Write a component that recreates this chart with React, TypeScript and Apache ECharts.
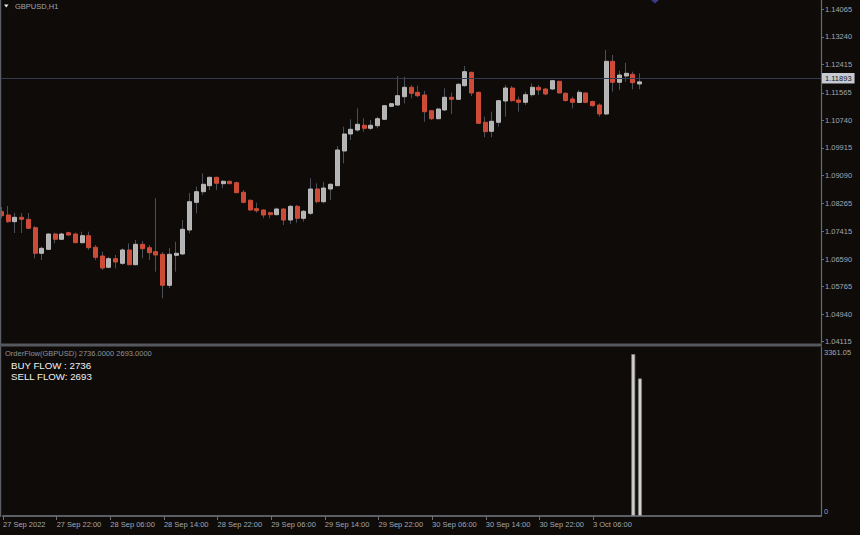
import React, { useEffect, useRef } from "react";
import * as echarts from "echarts";

// ---------- DATA ----------
const symbolTitle = "GBPUSD,H1";
const xTickLabels = [
  "27 Sep 2022", "27 Sep 22:00", "28 Sep 06:00", "28 Sep 14:00", "28 Sep 22:00",
  "29 Sep 06:00", "29 Sep 14:00", "29 Sep 22:00", "30 Sep 06:00", "30 Sep 14:00",
  "30 Sep 22:00", "3 Oct 06:00",
];
const barsPerXTick = 8;
const priceTicks = [
  1.14065, 1.1324, 1.12415, 1.11565, 1.1074, 1.09915, 1.0909, 1.08265,
  1.07415, 1.0659, 1.05765, 1.0494, 1.04115,
];
const priceMin = 1.04077;
const priceMax = 1.14343;
const currentPrice = 1.11893;

const opens = [
  1.08007, 1.07908, 1.07708, 1.07839, 1.07779, 1.07528, 1.06762, 1.06881, 1.07339, 1.07181,
  1.07378, 1.07339, 1.07079, 1.07289, 1.06941, 1.06681, 1.06343, 1.066, 1.06462, 1.06861,
  1.0642, 1.07031, 1.06929, 1.0681, 1.06732, 1.05804, 1.06702, 1.06741, 1.07459, 1.08288,
  1.08605, 1.08785, 1.09036, 1.08845, 1.08917, 1.08875, 1.08588, 1.08348, 1.08097, 1.08058,
  1.07977, 1.07917, 1.08088, 1.07758, 1.08168, 1.07809, 1.07959, 1.08686, 1.08306, 1.08686,
  1.08785, 1.09824, 1.10332, 1.10452, 1.10593, 1.10503, 1.10581, 1.10772, 1.11161, 1.112,
  1.11449, 1.1173, 1.1158, 1.115, 1.1103, 1.1079, 1.11051, 1.11431, 1.11371, 1.11778,
  1.12179, 1.1158, 1.10683, 1.10413, 1.10683, 1.1132, 1.11709, 1.1135, 1.11281, 1.11509,
  1.1173, 1.11679, 1.11679, 1.1191, 1.11551, 1.1138, 1.11275, 1.1156, 1.11305, 1.112,
  1.10931, 1.12508, 1.1188, 1.12068, 1.12119, 1.1183,
];
const closes = [
  1.07887, 1.07708, 1.07839, 1.07779, 1.0751, 1.06762, 1.06911, 1.07339, 1.07181, 1.07339,
  1.07309, 1.07079, 1.07289, 1.06929, 1.06642, 1.06322, 1.066, 1.06501, 1.06861, 1.0642,
  1.07031, 1.06899, 1.0678, 1.06711, 1.05804, 1.06732, 1.06762, 1.0748, 1.08306, 1.08605,
  1.08827, 1.09036, 1.08857, 1.08917, 1.08845, 1.08576, 1.08288, 1.08058, 1.08037, 1.07908,
  1.07917, 1.08088, 1.07758, 1.08168, 1.07809, 1.08019, 1.08686, 1.08306, 1.08716, 1.08827,
  1.09854, 1.10332, 1.10473, 1.10623, 1.10503, 1.10593, 1.1079, 1.11179, 1.11239, 1.11479,
  1.1173, 1.11551, 1.11479, 1.11, 1.1079, 1.11081, 1.11431, 1.11371, 1.1182, 1.12197,
  1.1156, 1.10653, 1.10401, 1.10713, 1.11329, 1.11709, 1.11329, 1.11281, 1.11509, 1.1173,
  1.11649, 1.1153, 1.11928, 1.1156, 1.11335, 1.11281, 1.1158, 1.11281, 1.11179, 1.10931,
  1.12508, 1.1188, 1.12098, 1.12149, 1.11868, 1.11893,
];
const lows = [
  1.07818, 1.07669, 1.07369, 1.07369, 1.07489, 1.06612, 1.06561, 1.06861, 1.07061, 1.0716,
  1.07289, 1.07061, 1.07061, 1.06861, 1.06561, 1.06262, 1.06313, 1.06313, 1.06412, 1.06403,
  1.06403, 1.06612, 1.06561, 1.06211, 1.05415, 1.05723, 1.06211, 1.06711, 1.0736, 1.07959,
  1.08507, 1.08656, 1.08656, 1.08707, 1.08836, 1.08558, 1.08258, 1.08037, 1.07977, 1.07809,
  1.07809, 1.07899, 1.07609, 1.07639, 1.07678, 1.07708, 1.07908, 1.08258, 1.08258, 1.08357,
  1.08776, 1.09455, 1.10153, 1.10401, 1.10401, 1.10452, 1.10503, 1.10751, 1.11131, 1.11179,
  1.11251, 1.11401, 1.11431, 1.10701, 1.10751, 1.10772, 1.1103, 1.10931, 1.1135, 1.11748,
  1.1147, 1.10632, 1.10234, 1.10234, 1.10551, 1.1085, 1.11299, 1.11, 1.112, 1.11449,
  1.115, 1.11491, 1.11649, 1.11551, 1.11299, 1.11102, 1.11269, 1.11251, 1.1115, 1.1085,
  1.10901, 1.11598, 1.11649, 1.11898, 1.1167, 1.1167,
];
const highs = [
  1.08148, 1.08177, 1.07968, 1.07968, 1.07968, 1.07579, 1.06959, 1.0736, 1.07378, 1.07378,
  1.07408, 1.07378, 1.07408, 1.07408, 1.0701, 1.0681, 1.0666, 1.06711, 1.06911, 1.07061,
  1.0716, 1.0713, 1.0701, 1.08408, 1.06801, 1.0692, 1.07109, 1.07758, 1.08567, 1.08755,
  1.09156, 1.09054, 1.09054, 1.08956, 1.08935, 1.08905, 1.08656, 1.08378, 1.08276, 1.08079,
  1.08007, 1.08127, 1.08109, 1.08207, 1.08207, 1.08058, 1.09006, 1.08857, 1.08905, 1.08857,
  1.09973, 1.10551, 1.10772, 1.11102, 1.10802, 1.10751, 1.1085, 1.112, 1.11269, 1.12068,
  1.12047, 1.11799, 1.11778, 1.11628, 1.11051, 1.11102, 1.117, 1.11569, 1.1185, 1.12368,
  1.12197, 1.11598, 1.1085, 1.11, 1.1135, 1.11799, 1.11769, 1.11449, 1.11598, 1.1185,
  1.11799, 1.117, 1.11949, 1.11928, 1.1158, 1.11449, 1.11649, 1.1158, 1.11329, 1.11251,
  1.12847, 1.12697, 1.12227, 1.12466, 1.12197, 1.12149,
];

const indicatorName = "OrderFlow(GBPUSD)";
const flowBarIndices = [94, 95];
const buyFlowValues = [3220, 2736];
const lastBuyFlow = 2736;
const lastSellFlow = 2693;
const flowMax = 3361.05;
const flowTicks = [0, 3361.05];

// ---------- STYLE ----------
const FONT = '"Liberation Sans", Arial, sans-serif';
const BG = "#0e0b09";
const AXIS_TEXT = "#a3a7b0";
const FRAME = "#5b5e65";
const SLOTS = 123; // visible bar slots incl. right shift

export default function App() {
  const ref = useRef<HTMLDivElement>(null);

  useEffect(() => {
    document.body.style.margin = "0";
    const chart = echarts.init(ref.current!, undefined, { renderer: "svg", width: 860, height: 535 });

    const categories = Array.from({ length: SLOTS }, (_, i) => String(i));
    const wickData = opens.map((o, i) => [o, closes[i], lows[i], highs[i]]);
    const bodyData = opens.map((o, i) => [o, closes[i], Math.min(o, closes[i]), Math.max(o, closes[i])]);
    const flowData: (number | null)[] = opens.map(() => null);
    flowBarIndices.forEach((idx, k) => (flowData[idx] = buyFlowValues[k]));

    const xTickShown = (index: number) =>
      index % barsPerXTick === 0 && index / barsPerXTick < xTickLabels.length;

    const option: any = {
      animation: false,
      backgroundColor: BG,
      grid: [
        { left: 1.5, top: 0, width: 819.5, height: 343 },
        { left: 1.5, top: 347, width: 819.5, height: 169 },
      ],
      xAxis: [
        { type: "category", gridIndex: 0, data: categories, boundaryGap: false, show: false },
        {
          type: "category",
          gridIndex: 1,
          data: categories,
          boundaryGap: false,
          axisLine: { show: true, lineStyle: { color: FRAME, width: 2 } },
          axisTick: { show: true, length: 4, interval: xTickShown, lineStyle: { color: "#6b6e76", width: 1 } },
          axisLabel: {
            interval: xTickShown,
            formatter: (_v: string, i: number) => xTickLabels[i / barsPerXTick] ?? "",
            align: "left",
            margin: 4,
            color: AXIS_TEXT,
            fontSize: 7.5,
            fontFamily: FONT,
          },
          splitLine: { show: false },
        },
      ],
      yAxis: [
        {
          type: "value",
          gridIndex: 0,
          position: "right",
          min: priceMin,
          max: priceMax,
          axisLine: { show: true, lineStyle: { color: "#696c74", width: 1.2 } },
          axisTick: { show: true, length: 3, customValues: priceTicks, lineStyle: { color: "#696c74" } },
          axisLabel: {
            customValues: priceTicks,
            formatter: (v: number) => v.toFixed(5),
            margin: 4,
            color: AXIS_TEXT,
            fontSize: 7.5,
            fontFamily: FONT,
          },
          splitLine: { show: false },
        },
        {
          type: "value",
          gridIndex: 1,
          position: "right",
          min: 0,
          max: flowMax,
          axisLine: { show: true, lineStyle: { color: "#696c74", width: 1.2 } },
          axisTick: { show: false },
          axisLabel: {
            customValues: flowTicks,
            formatter: (v: number) => (v === 0 ? "{b|0}" : "{t|" + v.toFixed(2) + "}"),
            margin: 3,
            color: AXIS_TEXT,
            fontSize: 7.5,
            fontFamily: FONT,
            rich: {
              t: { padding: [10, 0, 0, 0], color: AXIS_TEXT, fontSize: 7.5, fontFamily: FONT },
              b: { padding: [0, 0, 10, 0], color: "#8f9ab8", fontSize: 7.5, fontFamily: FONT },
            },
          },
          splitLine: { show: false },
        },
      ],
      series: [
        {
          type: "candlestick",
          name: "wicks",
          xAxisIndex: 0,
          yAxisIndex: 0,
          data: wickData,
          barWidth: 1,
          itemStyle: {
            color: "#4b4f59",
            color0: "#4b4f59",
            borderColor: "#4b4f59",
            borderColor0: "#4b4f59",
            borderWidth: 1,
          },
          silent: true,
        },
        {
          type: "candlestick",
          name: "bodies",
          xAxisIndex: 0,
          yAxisIndex: 0,
          data: bodyData,
          barWidth: 4.5,
          itemStyle: {
            color: "#b4b4b4",
            color0: "#cc4a36",
            borderColor: "#b9b9b9",
            borderColor0: "#cf4d38",
            borderWidth: 1,
          },
          markLine: {
            silent: true,
            symbol: "none",
            data: [{ yAxis: currentPrice }],
            lineStyle: { color: "#373b50", width: 1, type: "solid" },
            label: {
              position: "end",
              distance: 1,
              formatter: currentPrice.toFixed(5),
              backgroundColor: "#c6cad2",
              color: "#151820",
              fontSize: 7.5,
              fontFamily: FONT,
              padding: [1.5, 3, 1, 3],
            },
          },
        },
        {
          type: "bar",
          name: "buy flow",
          xAxisIndex: 1,
          yAxisIndex: 1,
          data: flowData,
          barWidth: 4,
          itemStyle: { color: "#d2d2d2", borderColor: "#7e7e7e", borderWidth: 0.8 },
        },
      ],
      graphic: [
        { type: "rect", z: 100, silent: true, shape: { x: 0, y: 0, width: 1.2, height: 517 }, style: { fill: FRAME } },
        { type: "rect", z: 100, silent: true, shape: { x: 0, y: 343.5, width: 822, height: 3 }, style: { fill: "#55585f" } },
        { type: "polygon", z: 100, silent: true, shape: { points: [[4, 4.5], [8.5, 4.5], [6.25, 7.5]] }, style: { fill: "#f0f0f0" } },
        {
          type: "text", z: 100, silent: true, x: 15, y: 6,
          style: { text: symbolTitle, fill: AXIS_TEXT, font: `7.5px ${FONT}`, verticalAlign: "middle" },
        },
        { type: "polygon", z: 100, silent: true, shape: { points: [[651, 0], [659, 0], [655, 3.5]] }, style: { fill: "#3b3b85" } },
        {
          type: "text", z: 100, silent: true, x: 5, y: 353,
          style: {
            text: `${indicatorName} ${lastBuyFlow.toFixed(4)} ${lastSellFlow.toFixed(4)}`,
            fill: "#8f939c", font: `7.5px ${FONT}`, verticalAlign: "middle",
          },
        },
        {
          type: "text", z: 100, silent: true, x: 11, y: 365.2,
          style: { text: `BUY FLOW : ${lastBuyFlow}`, fill: "#f2f2f2", font: `9.7px ${FONT}`, verticalAlign: "middle" },
        },
        {
          type: "text", z: 100, silent: true, x: 11, y: 376.5,
          style: { text: `SELL FLOW: ${lastSellFlow}`, fill: "#f2f2f2", font: `9.7px ${FONT}`, verticalAlign: "middle" },
        },
      ],
    };

    chart.setOption(option);
    return () => chart.dispose();
  }, []);

  return <div ref={ref} style={{ position: "absolute", left: 0, top: 0, width: 860, height: 535 }} />;
}
